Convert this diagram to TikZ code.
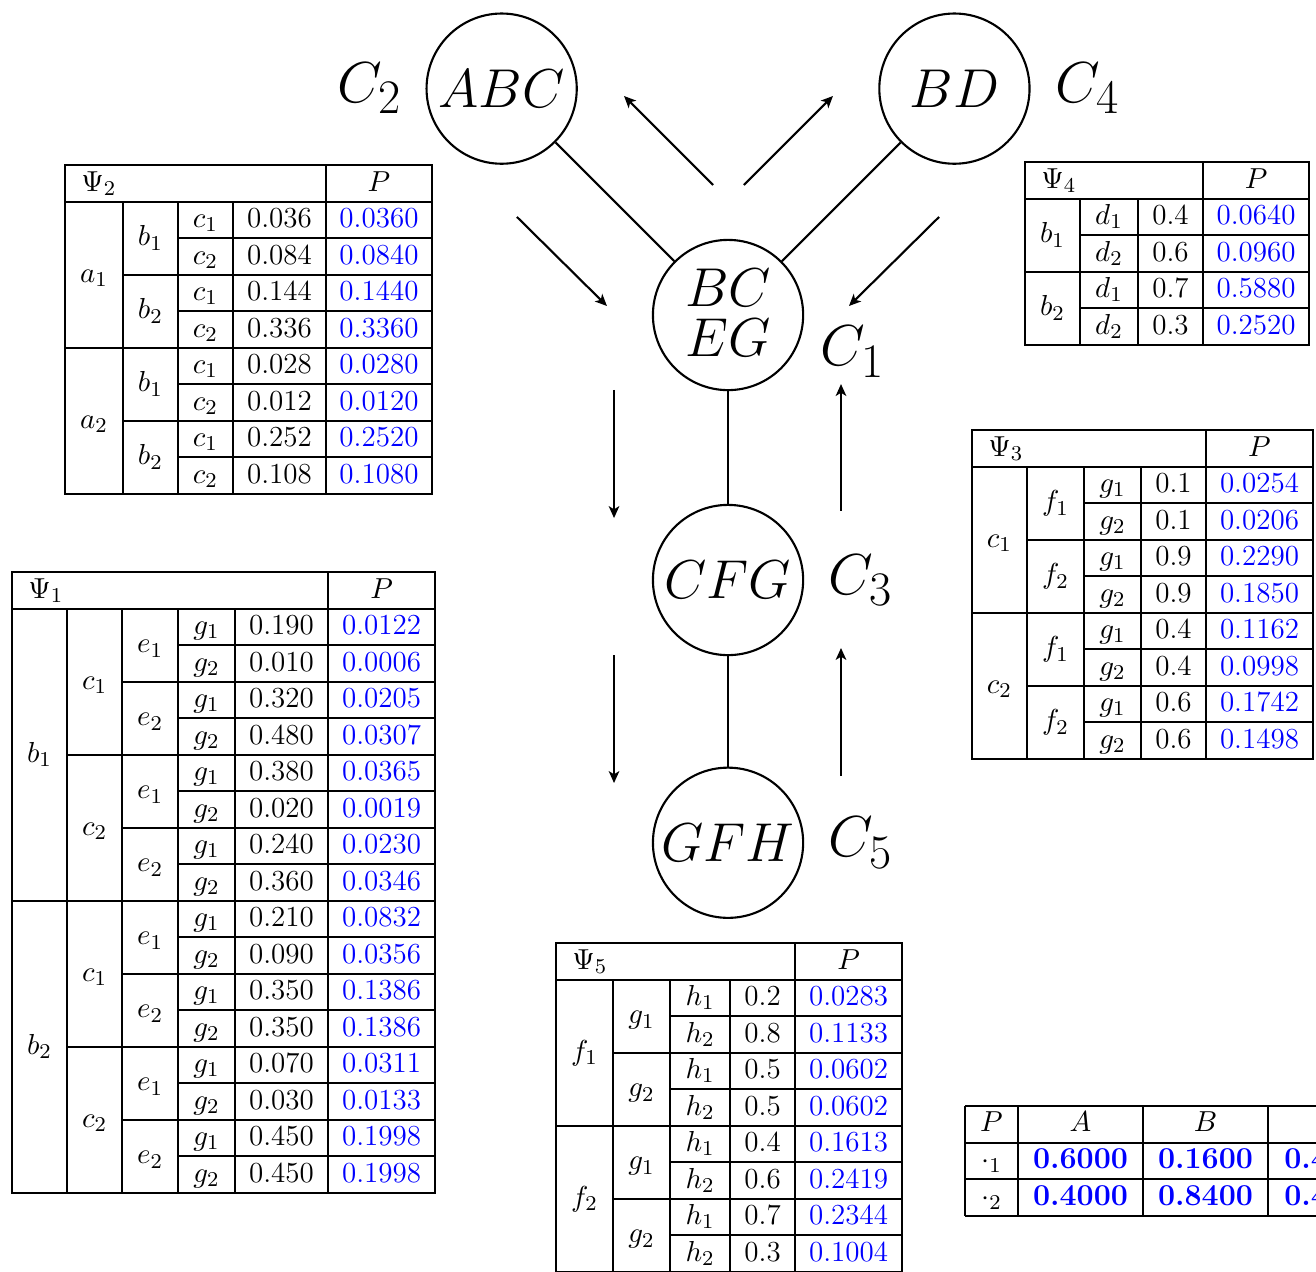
\documentclass[tikz,border=0pt]{standalone}
\usepackage{amsmath,amssymb}
\usepackage{tikz}
\usetikzlibrary{arrows.meta,positioning}
\usepackage{xcolor}

\begin{document}
\begin{tikzpicture}[>={Stealth[length=4.5pt,width=4pt,inset=1.2pt]},
  clique/.style={draw,circle,line width=0.8pt,minimum size=2cm,inner sep=0pt,font=\huge},
  tag/.style={inner sep=0pt,font=\Huge},
  link/.style={line width=0.8pt},
  msg/.style={->,line width=0.8pt},
  tabrule/.style={line width=0.75pt},
  cell/.style={anchor=base,inner sep=0pt,yshift=-1.03mm,font=\fontsize{11}{13}\selectfont},
  prob/.style={cell,text=blue},
  marg/.style={cell,text=blue,font=\fontsize{11.5}{13}\selectfont\bfseries}]
  \useasboundingbox (0,0) rectangle (17.521,-16.922);

  % junction tree
  \node (bceg) [clique,align=center,text depth=1.7pt,font=\fontsize{20.74}{19.3}\selectfont] at (9.693,-4.194) {$BC$\\$EG$};
  \node (abc) [clique,above left=1.58cm and 1.58cm of bceg] {$ABC$};
  \node (bd) [clique,above right=1.58cm and 1.58cm of bceg] {$BD$};
  \node (cfg) [clique,below=1.5cm of bceg] {$CFG$};
  \node (gfh) [clique,below=1.47cm of cfg] {$GFH$};
  \node (c2) [tag,left=0.31cm of abc] {\scalebox{0.88}{$C_2$}};
  \node (c4) [tag,right=0.33cm of bd] {\scalebox{0.88}{$C_4$}};
  \node (c1) [tag,right=0.21cm of bceg,yshift=-0.49cm] {\scalebox{0.88}{$C_1$}};
  \node (c3) [tag,right=0.32cm of cfg] {\scalebox{0.88}{$C_3$}};
  \node (c5) [tag,right=0.32cm of gfh] {\scalebox{0.88}{$C_5$}};
  \draw[link] (abc) -- (bceg);
  \draw[link] (bd) -- (bceg);
  \draw[link] (bceg) -- (cfg);
  \draw[link] (cfg) -- (gfh);

  % messages
  \coordinate (m21s) at (6.883,-2.889);  \coordinate (m21e) at (8.081,-4.074);
  \coordinate (m12s) at (9.493,-2.463);  \coordinate (m12e) at (8.308,-1.278);
  \coordinate (m14s) at (9.905,-2.463);  \coordinate (m14e) at (11.090,-1.278);
  \coordinate (m41s) at (12.502,-2.889); \coordinate (m41e) at (11.303,-4.074);
  \coordinate (m13s) at (8.175,-5.192);  \coordinate (m13e) at (8.175,-6.897);
  \coordinate (m31s) at (11.197,-6.803); \coordinate (m31e) at (11.197,-5.113);
  \coordinate (m35s) at (8.175,-8.721);  \coordinate (m35e) at (8.175,-10.425);
  \coordinate (m53s) at (11.197,-10.332); \coordinate (m53e) at (11.197,-8.627);
  \foreach \m in {21,12,14,41,13,31,35,53}
    \draw[msg] (m\m s) -- (m\m e);

  % Psi_2
  \begin{scope}[shift={(0.865,-2.197)}]
    \draw[tabrule] (0,0) rectangle (4.886,-4.374);
    \draw[tabrule] (0,-0.486) -- (4.886,-0.486);
    \draw[tabrule] (3.475,0) -- (3.475,-4.374);
    \foreach \x in {0.772,1.504,2.237} \draw[tabrule] (\x,-0.486) -- (\x,-4.374);
    \foreach \r in {1,3,5,7} \draw[tabrule] (1.504,{-0.486*(\r+1)}) -- (4.886,{-0.486*(\r+1)});
    \foreach \r in {2,6} \draw[tabrule] (0.772,{-0.486*(\r+1)}) -- (4.886,{-0.486*(\r+1)});
    \draw[tabrule] (0,-2.430) -- (4.886,-2.430);
    \node (t2h) [cell,anchor=base west] at (0.21,-0.243) {$\Psi_2$};
    \node (t2P) [cell] at (4.181,-0.243) {$P$};
    \foreach \v [count=\k] in {a_1,a_2}
      \node (t2a\k) [cell] at (0.386,{-0.486*(4*\k-1)}) {$\v$};
    \foreach \v [count=\k] in {b_1,b_2,b_1,b_2}
      \node (t2b\k) [cell] at (1.138,{-0.486*(2*\k)}) {$\v$};
    \foreach \v [count=\k] in {c_1,c_2,c_1,c_2,c_1,c_2,c_1,c_2}
      \node (t2c\k) [cell] at (1.871,{-0.486*(\k+0.5)}) {$\v$};
    \foreach \v [count=\k] in {0.036,0.084,0.144,0.336,0.028,0.012,0.252,0.108}
      \node (t2v\k) [cell] at (2.856,{-0.486*(\k+0.5)}) {\v};
    \foreach \v [count=\k] in {0.0360,0.0840,0.1440,0.3360,0.0280,0.0120,0.2520,0.1080}
      \node (t2p\k) [prob] at (4.181,{-0.486*(\k+0.5)}) {\v};
  \end{scope}

  % Psi_1
  \begin{scope}[shift={(0.160,-7.616)}]
    \draw[tabrule] (0,0) rectangle (5.632,-8.262);
    \draw[tabrule] (0,-0.486) -- (5.632,-0.486);
    \draw[tabrule] (4.207,0) -- (4.207,-8.262);
    \foreach \x in {0.732,1.465,2.210,2.969} \draw[tabrule] (\x,-0.486) -- (\x,-8.262);
    \foreach \r in {1,3,5,7,9,11,13,15} \draw[tabrule] (2.210,{-0.486*(\r+1)}) -- (5.632,{-0.486*(\r+1)});
    \foreach \r in {2,6,10,14} \draw[tabrule] (1.465,{-0.486*(\r+1)}) -- (5.632,{-0.486*(\r+1)});
    \foreach \r in {4,12} \draw[tabrule] (0.732,{-0.486*(\r+1)}) -- (5.632,{-0.486*(\r+1)});
    \draw[tabrule] (0,-4.374) -- (5.632,-4.374);
    \node (t1h) [cell,anchor=base west] at (0.21,-0.243) {$\Psi_1$};
    \node (t1P) [cell] at (4.920,-0.243) {$P$};
    \foreach \v [count=\k] in {b_1,b_2}
      \node (t1b\k) [cell] at (0.366,{-0.486*(8*\k-3)}) {$\v$};
    \foreach \v [count=\k] in {c_1,c_2,c_1,c_2}
      \node (t1c\k) [cell] at (1.099,{-0.486*(4*\k-1)}) {$\v$};
    \foreach \v [count=\k] in {e_1,e_2,e_1,e_2,e_1,e_2,e_1,e_2}
      \node (t1e\k) [cell] at (1.838,{-0.486*(2*\k)}) {$\v$};
    \foreach \k in {1,...,16} {
      \pgfmathtruncatemacro{\g}{2-mod(\k,2)}
      \node (t1g\k) [cell] at (2.590,{-0.486*(\k+0.5)}) {$g_{\g}$};
    }
    \foreach \v [count=\k] in {0.190,0.010,0.320,0.480,0.380,0.020,0.240,0.360,
                               0.210,0.090,0.350,0.350,0.070,0.030,0.450,0.450}
      \node (t1v\k) [cell] at (3.588,{-0.486*(\k+0.5)}) {\v};
    \foreach \v [count=\k] in {0.0122,0.0006,0.0205,0.0307,0.0365,0.0019,0.0230,0.0346,
                               0.0832,0.0356,0.1386,0.1386,0.0311,0.0133,0.1998,0.1998}
      \node (t1p\k) [prob] at (4.920,{-0.486*(\k+0.5)}) {\v};
  \end{scope}

  % Psi_4
  \begin{scope}[shift={(13.647,-2.157)}]
    \draw[tabrule] (0,0) rectangle (3.781,-2.430);
    \draw[tabrule] (0,-0.486) -- (3.781,-0.486);
    \draw[tabrule] (2.370,0) -- (2.370,-2.430);
    \foreach \x in {0.732,1.504} \draw[tabrule] (\x,-0.486) -- (\x,-2.430);
    \foreach \r in {1,3} \draw[tabrule] (0.732,{-0.486*(\r+1)}) -- (3.781,{-0.486*(\r+1)});
    \draw[tabrule] (0,-1.458) -- (3.781,-1.458);
    \node (t4h) [cell,anchor=base west] at (0.21,-0.243) {$\Psi_4$};
    \node (t4P) [cell] at (3.076,-0.243) {$P$};
    \foreach \v [count=\k] in {b_1,b_2}
      \node (t4b\k) [cell] at (0.366,{-0.486*(2*\k)}) {$\v$};
    \foreach \v [count=\k] in {d_1,d_2,d_1,d_2}
      \node (t4d\k) [cell] at (1.118,{-0.486*(\k+0.5)}) {$\v$};
    \foreach \v [count=\k] in {0.4,0.6,0.7,0.3}
      \node (t4v\k) [cell] at (1.937,{-0.486*(\k+0.5)}) {\v};
    \foreach \v [count=\k] in {0.0640,0.0960,0.5880,0.2520}
      \node (t4p\k) [prob] at (3.076,{-0.486*(\k+0.5)}) {\v};
  \end{scope}

  % Psi_3
  \begin{scope}[shift={(12.941,-5.725)}]
    \draw[tabrule] (0,0) rectangle (4.540,-4.374);
    \draw[tabrule] (0,-0.486) -- (4.540,-0.486);
    \draw[tabrule] (3.115,0) -- (3.115,-4.374);
    \foreach \x in {0.732,1.491,2.250} \draw[tabrule] (\x,-0.486) -- (\x,-4.374);
    \foreach \r in {1,3,5,7} \draw[tabrule] (1.491,{-0.486*(\r+1)}) -- (4.540,{-0.486*(\r+1)});
    \foreach \r in {2,6} \draw[tabrule] (0.732,{-0.486*(\r+1)}) -- (4.540,{-0.486*(\r+1)});
    \draw[tabrule] (0,-2.430) -- (4.540,-2.430);
    \node (t3h) [cell,anchor=base west] at (0.21,-0.243) {$\Psi_3$};
    \node (t3P) [cell] at (3.828,-0.243) {$P$};
    \foreach \v [count=\k] in {c_1,c_2}
      \node (t3c\k) [cell] at (0.366,{-0.486*(4*\k-1)}) {$\v$};
    \foreach \v [count=\k] in {f_1,f_2,f_1,f_2}
      \node (t3f\k) [cell] at (1.111,{-0.486*(2*\k)}) {$\v$};
    \foreach \v [count=\k] in {g_1,g_2,g_1,g_2,g_1,g_2,g_1,g_2}
      \node (t3g\k) [cell] at (1.871,{-0.486*(\k+0.5)}) {$\v$};
    \foreach \v [count=\k] in {0.1,0.1,0.9,0.9,0.4,0.4,0.6,0.6}
      \node (t3v\k) [cell] at (2.683,{-0.486*(\k+0.5)}) {\v};
    \foreach \v [count=\k] in {0.0254,0.0206,0.2290,0.1850,0.1162,0.0998,0.1742,0.1498}
      \node (t3p\k) [prob] at (3.828,{-0.486*(\k+0.5)}) {\v};
  \end{scope}

  % Psi_5
  \begin{scope}[shift={(7.403,-12.555)}]
    \draw[tabrule] (0,0) rectangle (4.607,-4.374);
    \draw[tabrule] (0,-0.486) -- (4.607,-0.486);
    \draw[tabrule] (3.182,0) -- (3.182,-4.374);
    \foreach \x in {0.759,1.518,2.317} \draw[tabrule] (\x,-0.486) -- (\x,-4.374);
    \foreach \r in {1,3,5,7} \draw[tabrule] (1.518,{-0.486*(\r+1)}) -- (4.607,{-0.486*(\r+1)});
    \foreach \r in {2,6} \draw[tabrule] (0.759,{-0.486*(\r+1)}) -- (4.607,{-0.486*(\r+1)});
    \draw[tabrule] (0,-2.430) -- (4.607,-2.430);
    \node (t5h) [cell,anchor=base west] at (0.21,-0.243) {$\Psi_5$};
    \node (t5P) [cell] at (3.895,-0.243) {$P$};
    \foreach \v [count=\k] in {f_1,f_2}
      \node (t5f\k) [cell] at (0.380,{-0.486*(4*\k-1)}) {$\v$};
    \foreach \v [count=\k] in {g_1,g_2,g_1,g_2}
      \node (t5g\k) [cell] at (1.139,{-0.486*(2*\k)}) {$\v$};
    \foreach \v [count=\k] in {h_1,h_2,h_1,h_2,h_1,h_2,h_1,h_2}
      \node (t5h\k) [cell] at (1.918,{-0.486*(\k+0.5)}) {$\v$};
    \foreach \v [count=\k] in {0.2,0.8,0.5,0.5,0.4,0.6,0.7,0.3}
      \node (t5v\k) [cell] at (2.750,{-0.486*(\k+0.5)}) {\v};
    \foreach \v [count=\k] in {0.0283,0.1133,0.0602,0.0602,0.1613,0.2419,0.2344,0.1004}
      \node (t5p\k) [prob] at (3.895,{-0.486*(\k+0.5)}) {\v};
  \end{scope}

  % marginals
  \begin{scope}[shift={(12.848,-14.725)}]
    \foreach \y in {0,-0.486,-0.972,-1.458} \draw[tabrule] (0,\y) -- (5.698,\y);
    \foreach \x in {0,0.706,2.370,4.034} \draw[tabrule] (\x,0) -- (\x,-1.458);
    \node (mP) [cell] at (0.353,-0.243) {$P$};
    \node (mA) [cell] at (1.538,-0.243) {$A$};
    \node (mB) [cell] at (3.202,-0.243) {$B$};
    \node (m1) [cell] at (0.353,-0.729) {$\cdot_1$};
    \node (m2) [cell] at (0.353,-1.215) {$\cdot_2$};
    \node (mA1) [marg] at (1.538,-0.729) {0.6000};
    \node (mA2) [marg] at (1.538,-1.215) {0.4000};
    \node (mB1) [marg] at (3.202,-0.729) {0.1600};
    \node (mB2) [marg] at (3.202,-1.215) {0.8400};
    \node (mC1) [marg,anchor=base west] at (4.244,-0.729) {0.4};
    \node (mC2) [marg,anchor=base west] at (4.244,-1.215) {0.4};
  \end{scope}
\end{tikzpicture}
\end{document}
